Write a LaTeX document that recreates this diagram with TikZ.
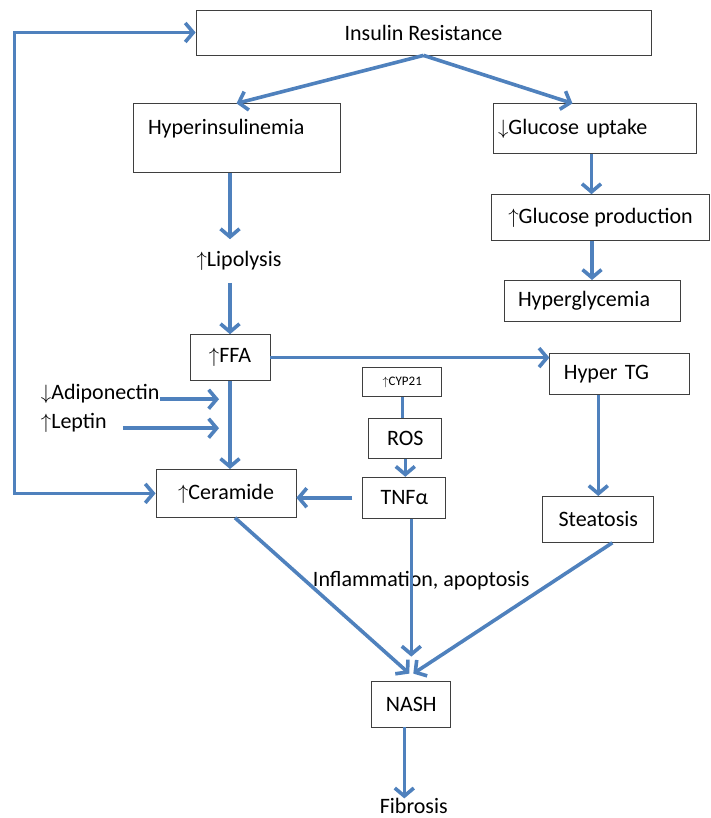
\documentclass[tikz,border=0pt]{standalone}
\usepackage{fontspec}
\setmainfont{Carlito}
\usepackage{tikz}
\usetikzlibrary{arrows.meta,positioning}
\definecolor{linkblue}{HTML}{4F81BD}
\definecolor{boxline}{HTML}{3F3F3F}
\newcommand{\incr}{$\uparrow$}
\newcommand{\decr}{$\downarrow$}

\begin{document}
\begin{tikzpicture}[
  x=1pt, y=1pt,
  >={Straight Barb[length=8pt,width=19pt]},
  box/.style={draw=boxline, line width=0.8pt, align=center, inner sep=2pt, font=\fontsize{22}{26}\selectfont},
  lbox/.style={box, align=left},
  txt/.style={inner sep=0pt, font=\fontsize{22}{26}\selectfont},
  link/.style={->, line width=3.6pt, linkblue}
]
  \useasboundingbox (0,0) rectangle (711,-818);

  \node[box, minimum width=455pt, minimum height=45pt] (ir) at (423.5,-32.5) {Insulin Resistance};
  \node[lbox, text width=177pt, inner xsep=15pt, inner ysep=12pt, text height=19pt, text depth=26pt, below=48pt of ir, xshift=-187pt] (hyp) {Hyperinsulinemia};
  \node[lbox, text width=193pt, inner xsep=5pt, minimum height=50pt, below=48pt of ir, xshift=171pt] (gup) {\decr Glucose uptake};
  \node[box, minimum width=218pt, minimum height=46pt, below=40pt of gup, xshift=6pt] (gpr) {\incr Glucose production};
  \node[lbox, text width=148pt, inner xsep=14pt, minimum height=41pt, below=39pt of gpr, xshift=-8.5pt] (hgl) {Hyperglycemia};

  \node[txt, inner ysep=12pt, below=66pt of hyp, xshift=2.5pt] (lip) {\incr Lipolysis};
  \node[box, minimum width=80pt, minimum height=46pt, below=161pt of hyp, xshift=-6.5pt] (ffa) {\incr FFA};
  \node[lbox, text width=112pt, inner xsep=14pt, minimum height=41pt, right=279pt of ffa, yshift=-16.5pt] (htg) {Hyper TG};
  \node[box, minimum width=79pt, minimum height=29pt, font=\fontsize{13}{15}\selectfont, right=92pt of ffa, yshift=-24.5pt] (cyp) {\incr CYP21};
  \node[box, minimum width=73pt, minimum height=40pt, below=21pt of cyp, xshift=3pt] (ros) {ROS};
  \node[box, minimum width=83pt, minimum height=41pt, below=18pt of ros, xshift=-1pt] (tnf) {TNFα};
  \node[box, minimum width=140pt, minimum height=48pt, below=88pt of ffa, xshift=-4pt] (cer) {\incr Ceramide};
  \node[box, minimum width=111pt, minimum height=46pt, below=101pt of htg, xshift=-21.5pt] (ste) {Steatosis};

  \node[txt, left=30pt of ffa, yshift=-36pt] (adi) {\decr Adiponectin};
  \node[txt, below=29pt of adi.west, anchor=west] (lep) {\incr Leptin};

  \node[txt, below=52pt of tnf, xshift=17pt] (infl) {Inflammation, apoptosis};
  \node[box, minimum width=79pt, minimum height=46pt, below=162pt of tnf, xshift=7pt] (nash) {NASH};
  \node[txt, below=71pt of nash, xshift=2.5pt] (fib) {Fibrosis};

  \coordinate[left=141pt of cer] (fb);
  \coordinate (tap) at ([xshift=-11pt]ffa.south);
  \coordinate[above=7pt of nash.north] (nin);

  \draw[link] (ir.south) -- (hyp.north);
  \draw[link] (ir.south) -- ([xshift=-22pt]gup.north);
  \draw[link] ([xshift=-3pt]gup.south) -- ([xshift=-3pt]gup.south |- gpr.north);
  \draw[link] (gpr.south -| hgl.north) -- (hgl.north);
  \draw[link] (hyp.south -| ffa.north) -- (ffa.north |- lip.north);
  \draw[link] (lip.south -| ffa.north) -- (ffa.north);
  \draw[link] (ffa.east) -- (ffa.east -| htg.west);
  \draw[link] (ffa.south) -- (ffa.south |- cer.north);
  \draw[link] (adi.base east) -- (adi.base east -| tap);
  \draw[link] ([xshift=16pt]lep.base east) -- (lep.base east -| tap);
  \draw[link, -] (cyp.south) -- (cyp.south |- ros.north);
  \draw[link] (ros.south) -- (ros.south |- tnf.north);
  \draw[link, shorten <=10pt] (tnf.west) -- (tnf.west -| cer.east);
  \draw[link] (htg.south -| ste.north) -- (ste.north);
  \draw[link, <->] (cer.west) -- (fb) |- (ir.west);
  \draw[link] ([xshift=9pt]cer.south) -- ([xshift=-2pt]nin);
  \draw[link] (tnf.south -| nin) -- ([yshift=17pt]nin);
  \draw[link] ([xshift=14pt]ste.south) -- ([xshift=2pt]nin);
  \draw[link] ([xshift=-7pt]nash.south) -- ([xshift=-7pt]nash.south |- fib.north);
\end{tikzpicture}
\end{document}
